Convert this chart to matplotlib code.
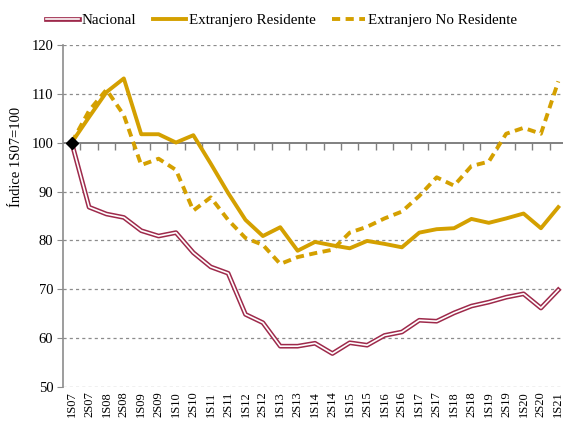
import numpy as np
import matplotlib
matplotlib.use("Agg")
import matplotlib.pyplot as plt
import matplotlib.patheffects as pe
from matplotlib.lines import TICKDOWN

plt.rcParams['font.family'] = ['Liberation Serif', 'DejaVu Serif']

semestres = ['1S07', '2S07', '1S08', '2S08', '1S09', '2S09', '1S10', '2S10',
             '1S11', '2S11', '1S12', '2S12', '1S13', '2S13', '1S14', '2S14',
             '1S15', '2S15', '1S16', '2S16', '1S17', '2S17', '1S18', '2S18',
             '1S19', '2S19', '1S20', '2S20', '1S21']

nacional = [100, 86.8, 85.4, 84.7, 82.0, 80.9, 81.6, 77.5, 74.6, 73.3,
            64.9, 63.2, 58.4, 58.4, 59.0, 56.9, 59.1, 58.6, 60.6, 61.3,
            63.7, 63.5, 65.2, 66.6, 67.4, 68.4, 69.1, 66.2, 69.9]

ext_residente = [100, 105.2, 110.3, 113.1, 101.7, 101.7, 100.0, 101.5, 95.7, 89.7,
                 84.2, 80.9, 82.7, 77.9, 79.7, 79.0, 78.4, 79.9, 79.3, 78.6,
                 81.6, 82.3, 82.5, 84.4, 83.6, 84.5, 85.5, 82.5, 86.8]

ext_no_residente = [100, 106.5, 110.8, 105.6, 95.4, 96.7, 94.4, 86.1, 88.8, 84.2,
                    80.5, 79.1, 75.2, 76.6, 77.4, 78.1, 81.6, 82.8, 84.5, 85.9,
                    89.1, 92.9, 91.2, 95.2, 96.1, 101.8, 103.0, 101.8, 112.5]

base = 100.0
rojo = '#9E2A4B'
oro = '#D4A000'
gris = '#8C8C8C'

x = np.arange(len(semestres))
doble = [pe.Stroke(linewidth=3.4, foreground=rojo),
         pe.Stroke(linewidth=1.2, foreground='white')]

fig = plt.figure(figsize=(5.63, 4.22), dpi=100)
ax = fig.add_axes([63 / 563, 0.0822, 504 / 563, 0.812])

ax.set_xlim(-0.5, len(semestres) - 0.5)
ax.set_ylim(50, 120)
ax.set_yticks(np.arange(50, 121, 10))

# grid
for v in [50, 60, 70, 80, 90, 110, 120]:
    ax.axhline(v, color=gris, lw=0.9, ls=(0, (2.5, 2.5)), zorder=1)

# horizontal axis crossing at 100, ticks between categories
ax.hlines(base, -0.5, len(semestres) - 0.5, colors='#808080', lw=1.4, zorder=2.5)
limites = x[:-1] + 0.5
ax.plot(limites, np.full(len(limites), base), ls='none', marker=TICKDOWN, ms=5,
        mew=1.0, mec='#808080', zorder=2.5)

# nacional: double line
ax.plot(x, nacional, color=rojo, lw=3.4, zorder=3, label='Nacional', path_effects=doble)
ax.plot(x, ext_residente, color=oro, lw=2.8, zorder=4, label='Extranjero Residente')
ax.plot(x, ext_no_residente, color=oro, lw=2.8, dashes=(2.1, 1.4), zorder=4,
        label='Extranjero No Residente')
ax.plot(x[0], nacional[0], marker='D', color='black', ms=6, zorder=6)

ax.set_xticks(x)
ax.set_xticklabels(semestres, rotation=90, fontsize=9)
ax.tick_params(axis='x', length=0, pad=3)
ax.tick_params(axis='y', direction='out', length=4, color=gris, labelsize=10.5, pad=3)

for s in ['top', 'right', 'bottom']:
    ax.spines[s].set_visible(False)
ax.spines['left'].set_color(gris)
ax.spines['left'].set_linewidth(1.2)

ax.set_ylabel('Índice 1S07=100', fontsize=10.5)
ax.yaxis.set_label_coords(-0.079, 0.673)

leg = fig.legend(loc='upper center', bbox_to_anchor=(0.5, 1.0), ncol=3, frameon=False,
                 fontsize=10.8, handlelength=2.2, handletextpad=0.2, columnspacing=1.1)
leg.legend_handles[0].set_path_effects(doble)

fig.savefig('out.png', dpi=100)
